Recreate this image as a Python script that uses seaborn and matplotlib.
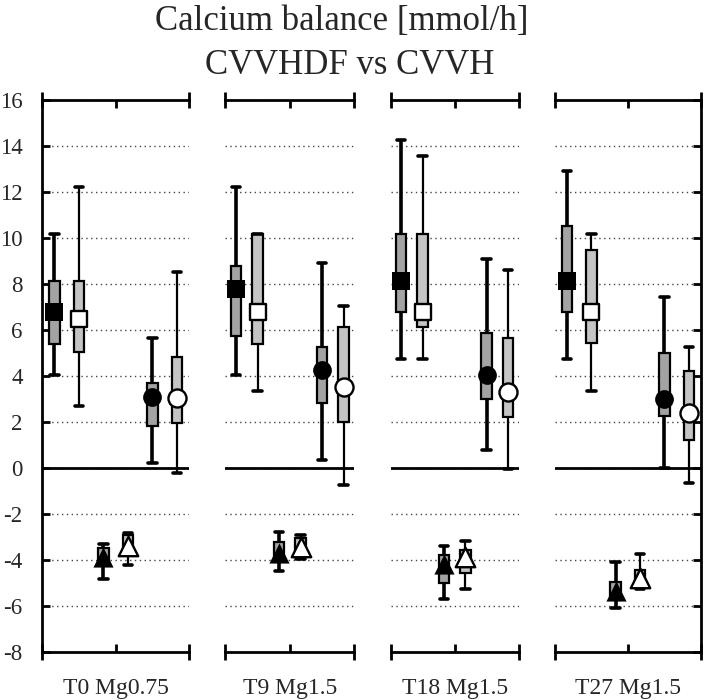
import pandas as pd
import matplotlib.pyplot as plt
import seaborn as sns

# Panels (time point / Mg dose) and the six series drawn in each panel
panels = ["T0 Mg0.75", "T9 Mg1.5", "T18 Mg1.5", "T27 Mg1.5"]
series = ["CVVHDF 1", "CVVH 1", "CVVHDF 2", "CVVH 2", "CVVHDF 3", "CVVH 3"]

# five-number summaries, rows = series, columns = panels
whisk_lo = [
    [4.06, 4.06, 4.72, 4.72],
    [2.70, 3.36, 4.72, 3.36],
    [-4.83, -4.46, -5.70, -6.10],
    [-4.22, -3.95, -5.28, -5.25],
    [0.20, 0.33, 0.78, 0.00],
    [-0.20, -0.74, -0.06, -0.64],
]
q1 = [
    [5.38, 5.74, 6.77, 6.77],
    [5.06, 5.38, 6.12, 5.42],
    [-4.20, -4.00, -5.01, -5.60],
    [-3.70, -3.75, -4.58, -5.15],
    [1.84, 2.81, 2.99, 2.26],
    [1.94, 2.01, 2.20, 1.22],
]
median = [
    [6.80, 7.80, 8.12, 8.12],
    [6.46, 6.77, 6.80, 6.80],
    [-3.87, -3.71, -4.17, -5.34],
    [-3.41, -3.45, -3.88, -4.80],
    [3.09, 4.26, 4.05, 2.99],
    [3.03, 3.54, 3.32, 2.38],
]
q3 = [
    [8.12, 8.80, 10.16, 10.52],
    [8.12, 10.16, 10.16, 9.49],
    [-3.48, -3.20, -3.78, -4.94],
    [-2.91, -3.05, -3.57, -4.43],
    [3.71, 5.28, 5.86, 4.99],
    [4.81, 6.12, 5.67, 4.23],
]
whisk_hi = [
    [10.16, 12.20, 14.25, 12.91],
    [12.20, 10.16, 13.57, 10.16],
    [-3.30, -2.80, -3.39, -4.07],
    [-2.81, -2.91, -3.17, -3.74],
    [5.64, 8.91, 9.07, 7.42],
    [8.54, 7.06, 8.59, 5.25],
]

# long table: 5 values per box reproduce the summary exactly
rows = []
for i, s in enumerate(series):
    for j, p in enumerate(panels):
        for v in (whisk_lo[i][j], q1[i][j], median[i][j], q3[i][j], whisk_hi[i][j]):
            rows.append({"panel": p, "series": s, "value": v})
df = pd.DataFrame(rows)

shapes = ["s", "s", "^", "^", "o", "o"]
sizes = [12.5, 12, 14.5, 14, 13.5, 13]

sns.set_style("white")
plt.rcParams["font.family"] = ["Liberation Serif", "DejaVu Serif"]
plt.rcParams["axes.unicode_minus"] = False

ratios = [147, 129, 128, 146]
fig, axes = plt.subplots(1, 4, figsize=(7.04, 7.0), dpi=100, sharey=True,
                         gridspec_kw=dict(width_ratios=ratios, wspace=0.262))
fig.subplots_adjust(left=42 / 704, right=701 / 704, bottom=1 - 652 / 700, top=1 - 100 / 700)

for j, (ax, p) in enumerate(zip(axes, panels)):
    sub = df[df["panel"] == p]
    step = ratios[j] / 6  # pixels per category
    for idx, fc, wlw in [([0, 2, 4], "#a3a3a3", 2.6), ([1, 3, 5], "#c4c4c4", 1.6)]:
        names = [series[k] for k in idx]
        sns.boxplot(data=sub[sub["series"].isin(names)], x="series", y="value",
                    order=series, whis=(0, 100), width=10.5 / step, color=fc,
                    saturation=1, linecolor="black", linewidth=1.6,
                    showfliers=False, medianprops={"visible": False},
                    whiskerprops={"linewidth": wlw},
                    capprops={"linewidth": 2.6}, capwidths=8.5 / step, ax=ax)
    for k, s in enumerate(series):
        filled = k % 2 == 0
        pt = pd.DataFrame({"series": [s], "value": [median[k][j]]})
        sns.stripplot(data=pt, x="series", y="value", order=series, jitter=False,
                      marker=shapes[k], size=sizes[k],
                      color="black" if filled else "white", edgecolor="black",
                      linewidth=0 if filled else 1.7, zorder=4, ax=ax)

    ax.axhline(0, color="black", lw=2, zorder=1.8)
    ax.set_xlim(-0.5, 5.5)
    ax.set_ylim(-8, 16)
    ax.set_yticks(range(-8, 17, 2))
    ax.yaxis.grid(True, color="#444444", linestyle=(0, (1, 2.5)), linewidth=1)
    ax.xaxis.grid(False)
    ax.set_axisbelow(True)

    ax.set_xticks([-0.5, 5.5])
    ax.set_xticks([2.5], minor=True)
    ax.set_xticklabels([])
    ax.tick_params(axis="x", which="major", direction="inout", length=12, width=2,
                   top=True, bottom=True, color="black")
    ax.tick_params(axis="x", which="minor", direction="in", length=6, width=2,
                   top=True, bottom=True, color="black")
    ax.set_xlabel(p, fontsize=17, labelpad=9)
    ax.set_ylabel("")

    for side in ["top", "bottom", "left", "right"]:
        ax.spines[side].set_linewidth(2)
        ax.spines[side].set_color("black")
    ax.spines["left"].set_visible(j == 0)
    ax.spines["right"].set_visible(j == 3)

    if j == 0:
        ax.tick_params(axis="y", left=True, right=False, direction="in", length=6,
                       width=2, labelsize=16.5, pad=14, labelleft=True, color="black")
    elif j == 3:
        ax.tick_params(axis="y", left=False, right=True, direction="in", length=6,
                       width=2, labelleft=False, color="black")
    else:
        ax.tick_params(axis="y", left=False, right=False, labelleft=False)

fig.text(342 / 704, 1 - 30 / 700, "Calcium balance [mmol/h]", ha="center",
         va="baseline", fontsize=25)
fig.text(350 / 704, 1 - 74 / 700, "CVVHDF vs CVVH", ha="center",
         va="baseline", fontsize=25)

fig.savefig("out.png", dpi=100)
plt.close(fig)
